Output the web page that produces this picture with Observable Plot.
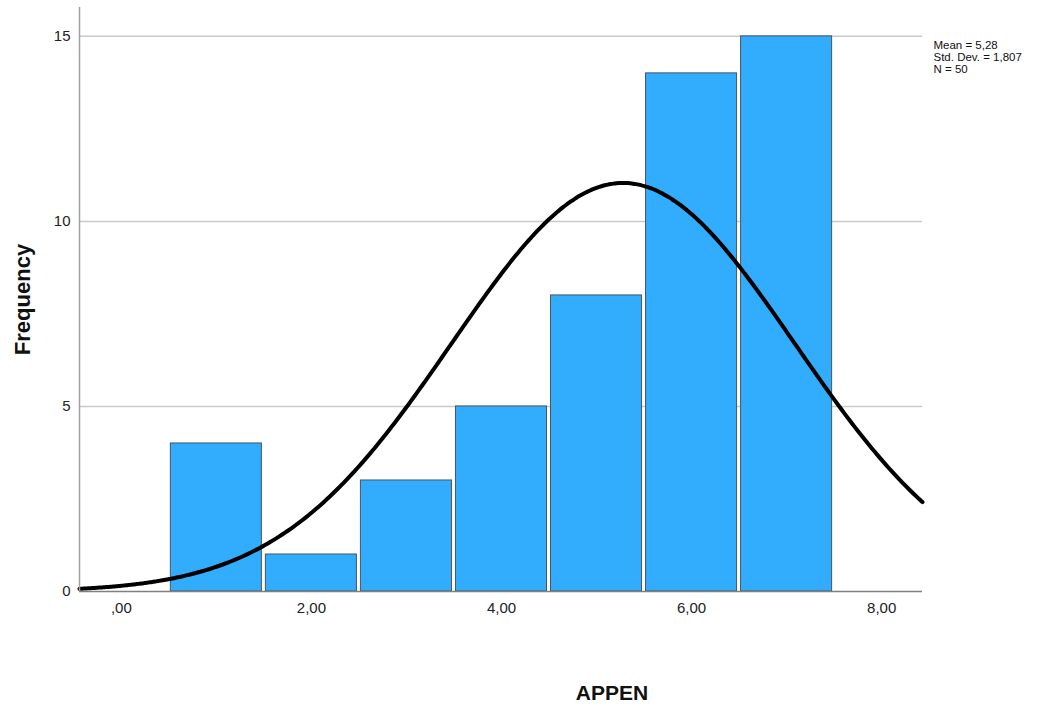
<!DOCTYPE html>
<html>
<head>
<meta charset="utf-8">
<script src="https://cdn.jsdelivr.net/npm/d3@7"></script>
<script src="https://cdn.jsdelivr.net/npm/@observablehq/plot@0.6"></script>
<style>
  html, body { margin: 0; padding: 0; background: #fff; }
  #chart svg { display: block; }
</style>
</head>
<body>
<div id="chart"></div>
<script>
// Histogram bins (bin centre) and frequencies
const binCenters = [1, 2, 3, 4, 5, 6, 7];
const frequencies = [4, 1, 3, 5, 8, 14, 15];
// Summary statistics shown in the legend
const meanValue = 5.28;
const stdDev = 1.807;
const nValue = 50;
const statsLines = ["Mean = 5,28", "Std. Dev. = 1,807", "N = 50"];
// Axis ticks
const xTicks = [0, 2, 4, 6, 8];
const xTickLabels = [",00", "2,00", "4,00", "6,00", "8,00"];
const yTicks = [0, 5, 10, 15];
const gridValues = [5, 10, 15];

const bars = binCenters.map((c, i) => ({x1: c - 0.5, x2: c + 0.5, y: frequencies[i]}));

// Normal curve implied by the stated mean, std. dev. and N (bin width 1)
const xMin = -0.44, xMax = 8.43;
const curve = d3.range(0, 301).map(i => {
  const x = xMin + (xMax - xMin) * i / 300;
  const z = (x - meanValue) / stdDev;
  return {x, y: nValue * Math.exp(-0.5 * z * z) / (stdDev * Math.sqrt(2 * Math.PI))};
});

const font = "Liberation Sans, Arial, sans-serif";

const chart = Plot.plot({
  width: 1062,
  height: 706,
  marginLeft: 79,
  marginRight: 140,
  marginTop: 7,
  marginBottom: 115,
  style: {fontFamily: font, fontSize: "14px", color: "#222", background: "#fff"},
  x: {domain: [xMin, xMax]},
  y: {domain: [0, 15.78]},
  marks: [
    Plot.ruleY(gridValues, {stroke: "#c9c9c9", strokeWidth: 1.5}),
    Plot.rectY(bars, {x1: "x1", x2: "x2", y: "y", fill: "#32acfd", stroke: "#4a5560", strokeWidth: 1, insetLeft: 2, insetRight: 2}),
    Plot.line(curve, {x: "x", y: "y", stroke: "#000", strokeWidth: 4, curve: "basis"}),
    Plot.ruleX([xMin], {stroke: "#a0a0a0", strokeWidth: 1.5, y1: 0, y2: 15.78}),
    Plot.ruleY([0], {stroke: "#808080", strokeWidth: 1.5}),
    Plot.axisX({ticks: xTicks, tickFormat: (d) => xTickLabels[xTicks.indexOf(d)], tickSize: 0, tickPadding: 11, label: null, fontSize: 15}),
    Plot.axisY({ticks: yTicks, tickSize: 0, tickPadding: 9, label: null, fontSize: 15}),
    Plot.text(["Frequency"], {frameAnchor: "left", textAnchor: "middle", lineAnchor: "middle", dx: -56.5, rotate: -90, fontWeight: "bold", fontSize: 22, fill: "#111"}),
    Plot.text(["APPEN"], {frameAnchor: "bottom", lineAnchor: "middle", dx: 111, dy: 101.5, fontWeight: "bold", fontSize: 21, fill: "#111"}),
    Plot.text([statsLines.join("\n")], {frameAnchor: "top-right", dx: 11, dy: 33, textAnchor: "start", lineAnchor: "top", fontSize: 11.5, lineHeight: 1.05, fill: "#111"})
  ]
});
document.getElementById("chart").appendChild(chart);
</script>
</body>
</html>
